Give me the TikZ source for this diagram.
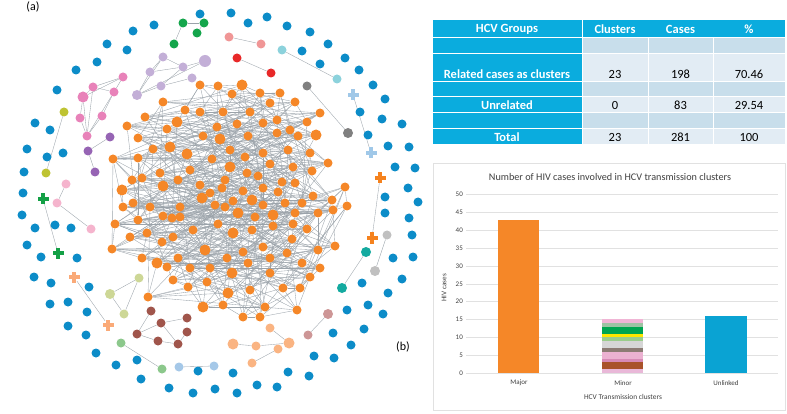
\documentclass[tikz,border=0pt]{standalone}
\usepackage{fontspec}
\setmainfont{Carlito}
\usetikzlibrary{backgrounds}
\definecolor{bluedot}{RGB}{12,140,200}
\definecolor{orangedot}{RGB}{245,135,40}
\definecolor{edgec}{RGB}{155,163,170}
\definecolor{tabcyan}{RGB}{10,172,222}
\definecolor{tabdark}{RGB}{200,222,235}
\definecolor{tablight}{RGB}{226,236,244}
\definecolor{cgreen}{RGB}{20,165,75}
\definecolor{csalmon}{RGB}{240,150,150}
\definecolor{cred}{RGB}{232,40,40}
\definecolor{ccyan}{RGB}{140,210,220}
\definecolor{cgray}{RGB}{128,128,128}
\definecolor{clblue}{RGB}{160,200,232}
\definecolor{cplusor}{RGB}{245,130,30}
\definecolor{clgray}{RGB}{192,192,192}
\definecolor{cteal}{RGB}{20,170,160}
\definecolor{clav}{RGB}{195,175,215}
\definecolor{cpink}{RGB}{232,130,185}
\definecolor{cpurple}{RGB}{150,100,180}
\definecolor{colive}{RGB}{190,195,50}
\definecolor{clpink}{RGB}{245,180,205}
\definecolor{cgplus}{RGB}{20,160,70}
\definecolor{cloplus}{RGB}{250,170,120}
\definecolor{ckhaki}{RGB}{205,215,150}
\definecolor{cbrown}{RGB}{160,85,75}
\definecolor{clgreen}{RGB}{140,200,140}
\definecolor{clb}{RGB}{165,200,232}
\definecolor{cpeach}{RGB}{250,180,130}
\definecolor{crosy}{RGB}{205,150,150}
\definecolor{gridc}{RGB}{225,225,225}
\definecolor{txtc}{RGB}{64,64,64}
\definecolor{s1}{RGB}{233,184,216}
\definecolor{s2}{RGB}{169,82,42}
\definecolor{s3}{RGB}{215,137,181}
\definecolor{s4}{RGB}{235,177,209}
\definecolor{s5}{RGB}{140,123,116}
\definecolor{s6}{RGB}{214,214,214}
\definecolor{s7}{RGB}{154,205,139}
\definecolor{s8}{RGB}{255,230,0}
\definecolor{s9}{RGB}{0,165,80}
\definecolor{s10}{RGB}{157,195,163}
\definecolor{s11}{RGB}{240,181,213}
\newcommand\PlusMark[4]{%
  \node[pnode] (#1) at (#2,#3) {};
  \fill[#4] (#1.center) ++(-5.5,-1.9) rectangle ++(11,3.8);
  \fill[#4] (#1.center) ++(-1.9,-5.5) rectangle ++(3.8,11);}
\tikzset{
  dot/.style={circle,inner sep=0pt,minimum size=9pt},
  bnode/.style={dot,fill=bluedot},
  onode/.style={dot,fill=orangedot},
  pnode/.style={circle,inner sep=0pt,minimum size=10pt},
  edge/.style={draw=edgec,line width=0.35pt},
  tabtxt/.style={font=\fontsize{12.5}{14}\selectfont,inner sep=0pt},
  tabhead/.style={tabtxt,font=\fontsize{12.5}{14}\selectfont\bfseries,text=white},
  ticklab/.style={font=\fontsize{7}{8}\selectfont,text=txtc,inner sep=0pt},
}
\begin{document}
\begin{tikzpicture}[x=1pt,y=-1pt]
\useasboundingbox (0,0) rectangle (787,414);
% ---------- orange cluster ----------
\foreach \x/\y/\s [count=\i] in {200/85/9,218/86/9,242/85/11,260/93/9,280/93/9,232/94/9,163/102/9,270/103/9,295/102/9,145/117/9,
185/110/9,200/112/9,223/112/9,250/112/9,277/120/9,307/122/9,320/113/9,127/126/9,167/129/9,177/122/11,
217/127/9,237/124/9,263/123/9,290/130/9,316/135/11,138/138/9,203/136/9,220/139/11,248/136/9,277/133/9,
298/136/9,153/149/9,170/147/11,187/154/11,212/159/9,230/150/9,245/157/9,263/153/9,288/150/9,310/153/9,
113/159/9,138/158/9,328/163/9,160/173/9,190/170/9,230/167/11,247/173/9,270/164/9,293/167/9,312/171/9,
132/180/9,142/178/9,178/180/9,200/185/9,225/180/9,258/176/9,282/182/9,295/183/9,122/190/11,163/186/11,
210/193/9,222/188/9,243/191/9,263/188/9,278/192/9,313/196/9,332/200/9,133/203/9,150/207/9,180/207/9,
202/198/11,215/205/9,233/201/9,252/200/11,263/205/9,285/203/9,302/203/9,123/207/9,138/220/9,163/216/9,
172/218/9,180/217/9,225/207/9,238/213/11,255/217/9,273/215/11,295/213/9,318/213/9,333/210/9,115/224/9,
147/233/9,193/230/9,218/224/9,233/233/11,252/230/9,273/226/9,293/224/9,307/229/9,130/237/9,162/242/9,
173/237/9,205/250/11,243/252/9,263/247/9,287/253/9,292/239/9,318/250/9,335/246/9,112/249/9,142/258/9,
157/263/11,167/267/9,178/258/9,190/268/9,210/268/9,227/258/9,232/273/11,248/263/9,270/258/9,302/263/9,
320/268/9,173/280/9,188/287/9,207/282/9,250/290/9,270/273/9,283/288/9,300/288/9,310/277/9,148/297/9,
228/293/11,265/307/9,203/307/11,223/305/9,243/317/9,260/317/9,297/310/9,345/187/9,347/206/9}
  \node[onode,minimum size=\s pt] (o\i) at (\x,\y) {};
% ---------- blue isolated dots ----------
\foreach \x/\y [count=\i] in {200/14,231/13,267/17,248/23,154/25,133/31,287/26,310/32,107/44,127/50,
302/51,328/44,97/62,320/64,345/58,76/70,359/70,373/85,57/90,385/99,360/112,35/123,50/130,382/119,402/124,
27/149,63/153,47/157,368/135,388/146,409/147,24/172,395/167,415/168,23/193,385/197,408/188,418/202,
385/213,409/218,412/235,393/258,413/257,402/279,362/283,388/293,347/310,368/305,383/314,333/333,364/329,
351/345,314/356,334/358,288/372,309/376,233/373,257/385,277/387,237/393,215/389,
22/215,35/228,55/225,71/228,27/245,41/257,77/258,34/277,51/283,89/287,50/304,68/302,87/312,68/326,86/335,
96/353,116/365,137/360,141/379,169/388,193/393,198/371}
  \node[bnode] (b\i) at (\x,\y) {};
% ---------- small coloured clusters ----------
\foreach \n/\x/\y/\c/\s in {g1/183/23/cgreen/9,g2/204/23/cgreen/9,g3/197/33/cgreen/9,g4/174/44/cgreen/9,
sa1/229/37/csalmon/9,sa2/261/44/csalmon/9,r1/237/58/cred/9,r2/271/73/cred/9,
c1/282/50/ccyan/9,c2/337/79/ccyan/9,k1/307/86/cgray/9,k2/348/133/cgray/10,
lg1/387/235/clgray/9,lg2/375/271/clgray/10,t1/366/252/cteal/10,t2/342/288/cteal/10,
v1/163/57/clav/9,v2/205/61/clav/12,v3/183/67/clav/9,v4/150/72/clav/9,v5/192/78/clav/9,v6/161/86/clav/9,v7/137/95/clav/10,
p1/123/77/cpink/9,p2/93/87/cpink/9,p3/114/92/cpink/9,p4/83/97/cpink/11,p5/80/118/cpink/9,p6/102/116/cpink/9,p7/87/136/cpink/9,
u1/110/137/cpurple/9,u2/88/151/cpurple/9,u3/95/172/cpurple/9,y1/64/112/colive/9,y2/46/173/colive/9,
lp1/66/184/clpink/9,lp2/57/203/clpink/9,lp3/91/229/clpink/9,
kh1/139/278/ckhaki/9,kh2/110/294/ckhaki/10,kh3/124/314/ckhaki/9,
bb1/151/311/cbrown/9,bb2/161/323/cbrown/9,bb3/187/318/cbrown/9,bb4/137/334/cbrown/9,bb5/187/332/cbrown/9,bb6/158/341/cbrown/9,bb7/178/344/cbrown/9,
gn1/121/343/clgreen/9,gn2/162/369/clgreen/9,lb1/179/367/clb/9,lb2/214/366/clb/9,
pe1/270/328/cpeach/9,pe2/233/344/cpeach/11,pe3/256/346/cpeach/9,pe4/289/343/cpeach/11,pe5/278/349/cpeach/9,pe6/252/363/cpeach/9,
ro1/328/314/crosy/10,ro2/308/335/crosy/9}
  \node[dot,fill=\c,minimum size=\s pt] (\n) at (\x,\y) {};
\PlusMark{q1}{353}{95}{clblue}
\PlusMark{q2}{371}{153}{clblue}
\PlusMark{op1}{380}{178}{cplusor}
\PlusMark{op2}{372}{238}{cplusor}
\PlusMark{gp1}{43}{199}{cgplus}
\PlusMark{gp2}{58}{253}{cgplus}
\PlusMark{lo1}{74}{277}{cloplus}
\PlusMark{lo2}{108}{325}{cloplus}
% ---------- edges (behind) ----------
\begin{pgfonlayer}{background}
\fill[white] (0,0) rectangle (787,414);
\foreach \i in {1,...,139}{
  \foreach \k in {1,7,10,19,37,61}{
    \pgfmathtruncatemacro\j{\i+\k}
    \ifnum\j<140 \draw[edge] (o\i) -- (o\j);\fi
  }
}
\draw[edge] (o41) -- (o109);
\foreach \a/\b in {g1/g2,g1/g4,g2/g3,sa1/sa2,r1/r2,c1/c2,k1/k2,q1/q2,op1/op2,lg1/lg2,t1/t2,
v7/v1,v7/v4,v7/v6,v7/v2,v1/v3,v3/v2,v4/v3,v3/v6,v6/v5,v1/v4,
p1/p2,p1/p3,p2/p3,p2/p4,p1/p4,p4/p5,p4/p7,p2/p7,p3/p6,p6/p7,p5/p7,p3/p7,
u1/u2,u2/u3,y1/y2,lp1/lp2,lp2/lp3,gp1/gp2,lo1/lo2,kh1/kh2,kh2/kh3,kh1/kh3,
bb1/bb4,bb2/bb3,bb2/bb4,bb4/bb6,bb6/bb7,bb2/bb7,bb5/bb7,gn1/gn2,lb1/lb2,
pe1/pe4,pe2/pe3,pe3/pe4,pe5/pe6,ro1/ro2}
  \draw[edge] (\a) -- (\b);
\end{pgfonlayer}
% ---------- labels ----------
\node[font=\fontsize{12}{14}\selectfont,inner sep=0pt] (la) at (33,7) {(a)};
\node[font=\fontsize{12}{14}\selectfont,inner sep=0pt] (lbl) at (403,347) {(b)};
% ---------- table ----------
\foreach \ya/\yb [count=\r] in {20/38,38/54,54/82,82/97,97/113,113/129,129/145}{
  \fill[tabcyan] (433,\ya) rectangle (581.5,\yb-0.8);
  \ifnum\r=1
    \fill[tabcyan] (582.5,\ya) rectangle (785,\yb-0.8);
  \else
    \pgfmathtruncatemacro\odd{mod(\r,2)}
    \ifnum\odd=0 \def\cc{tabdark}\else\def\cc{tablight}\fi
    \fill[\cc] (582.5,\ya) rectangle (647.5,\yb-0.8);
    \fill[\cc] (648.5,\ya) rectangle (712.5,\yb-0.8);
    \fill[\cc] (713.5,\ya) rectangle (785,\yb-0.8);
  \fi
}
\node[tabhead] (h1) at (507,29) {HCV Groups};
\node[tabhead] (h2) at (615,29) {Clusters};
\node[tabhead] (h3) at (680.5,29) {Cases};
\node[tabhead] (h4) at (749,29) {\%};
\node[tabhead] (r1a) at (507,74) {Related cases as clusters};
\node[tabtxt] (r1b) at (615,74) {23};
\node[tabtxt] (r1c) at (680.5,74) {198};
\node[tabtxt] (r1d) at (749,74) {70.46};
\node[tabhead] (r2a) at (507,105) {Unrelated};
\node[tabtxt] (r2b) at (615,105) {0};
\node[tabtxt] (r2c) at (680.5,105) {83};
\node[tabtxt] (r2d) at (749,105) {29.54};
\node[tabhead] (r3a) at (507,137) {Total};
\node[tabtxt] (r3b) at (615,137) {23};
\node[tabtxt] (r3c) at (680.5,137) {281};
\node[tabtxt] (r3d) at (749,137) {100};
% ---------- chart ----------
\draw[gridc,line width=0.6pt] (433,163) rectangle (785,410);
\node[font=\fontsize{10.2}{12}\selectfont,text=txtc,inner sep=0pt] (ct) at (610,177) {Number of HIV cases involved in HCV transmission clusters};
\foreach \v in {0,5,...,50}{
  \draw[gridc,line width=0.5pt] (466,373-\v*3.567) -- (778,373-\v*3.567);
  \node[ticklab,anchor=east] (tk\v) at (463,373-\v*3.567) {\v};
}
\node[font=\fontsize{7.2}{8}\selectfont,text=txtc,inner sep=0pt,rotate=90] (yl) at (444,288) {HIV cases};
\fill[orangedot] (498,373) rectangle (539,373-43*3.567);
\fill[bluedot!80!cyan] (705,373) rectangle (747,373-16*3.567);
\foreach \lo/\hi/\c in {0/1/s1,1/3/s2,3/4/s3,4/6/s4,6/7/s5,7/9/s6,9/10/s7,10/11/s8,11/13/s9,13/14/s10,14/15/s11}
  \fill[\c] (602,373-\lo*3.567) rectangle (643,373-\hi*3.567);
\node[ticklab] (x1) at (519,383) {Major};
\node[ticklab] (x2) at (623,383) {Minor};
\node[ticklab] (x3) at (726,383) {Unlinked};
\node[font=\fontsize{7.4}{8}\selectfont,text=txtc,inner sep=0pt] (xl) at (623,397) {HCV Transmission clusters};
\end{tikzpicture}
\end{document}
